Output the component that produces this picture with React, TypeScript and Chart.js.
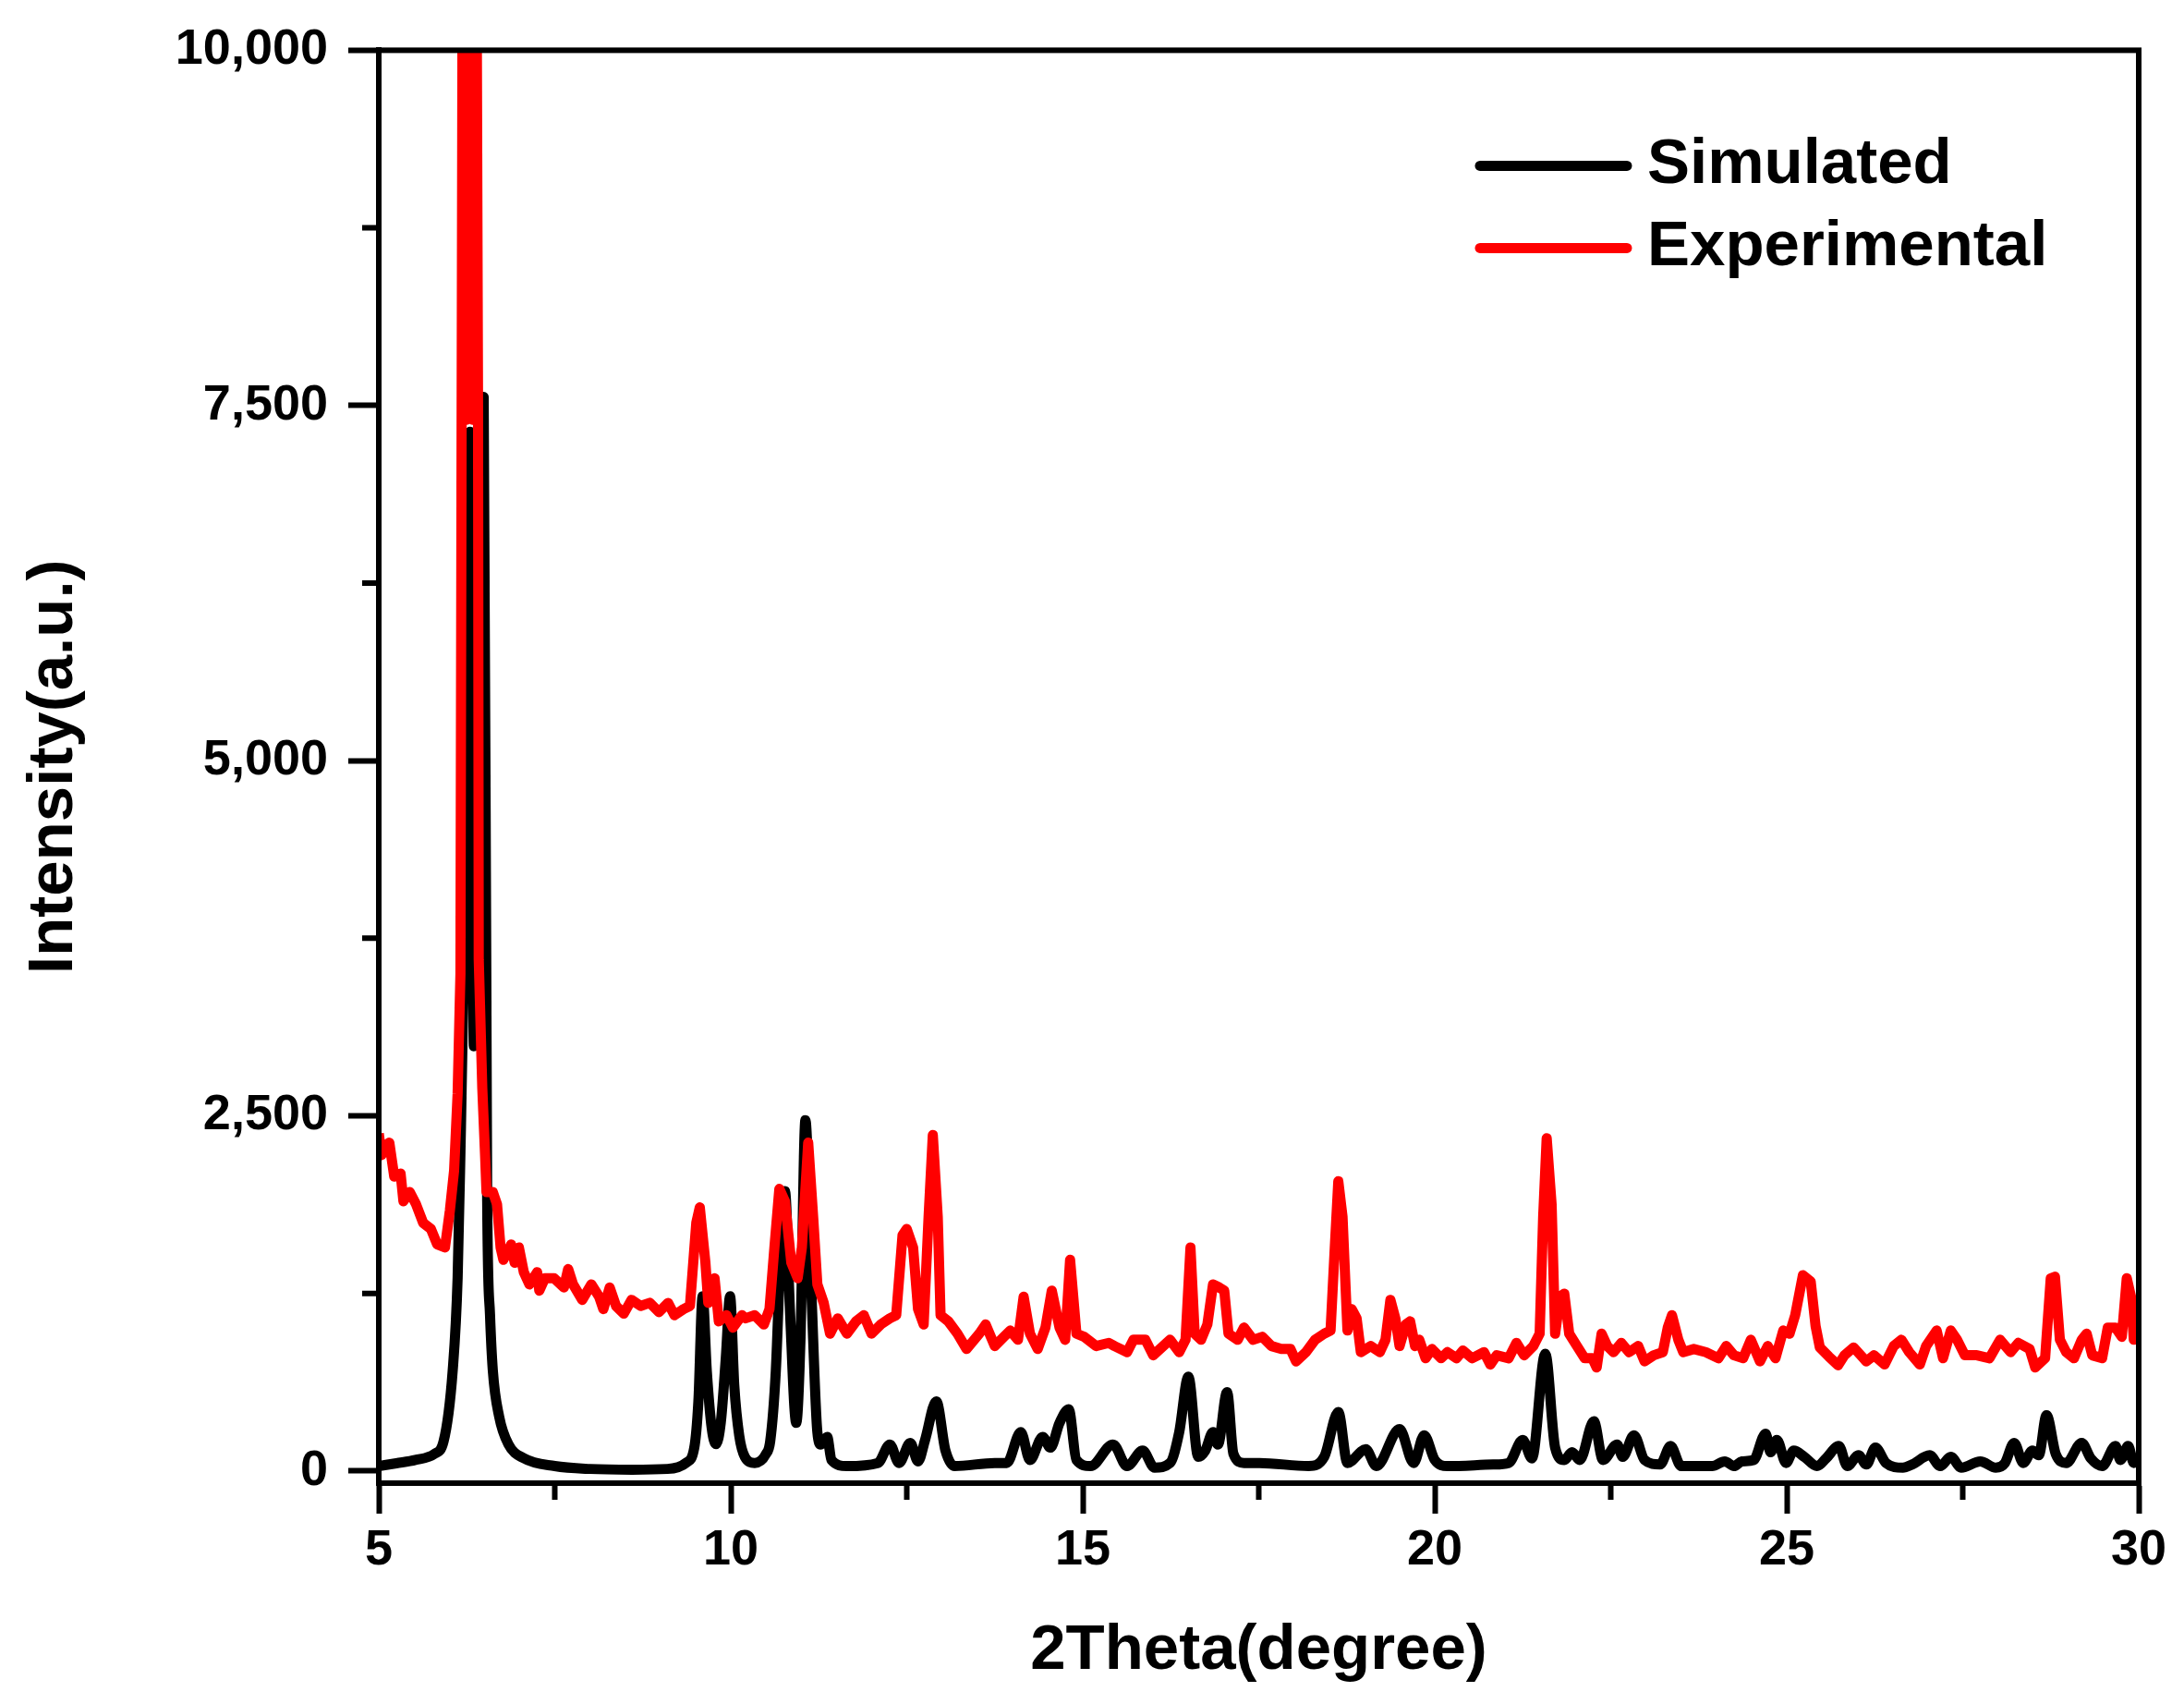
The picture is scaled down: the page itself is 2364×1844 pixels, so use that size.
import { useEffect, useRef } from "react";
import { Chart, registerables } from "chart.js";

Chart.register(...registerables);

const FONT = "'Liberation Sans', Arial, sans-serif";

const seriesLabels = ["Simulated", "Experimental"];
const seriesColors = ["#000000", "#ff0000"];

const xTicks = [5, 10, 15, 20, 25, 30];
const xMinorTicks = [7.5, 12.5, 17.5, 22.5, 27.5];
const yTicks = [0, 2500, 5000, 7500, 10000];
const yMinorTicks = [1250, 3750, 6250, 8750];

// [2theta, intensity]
const simulatedPoints: [number, number][] = [
    [5.0, 35], [5.25, 55], [5.52, 78], [5.79, 121], [5.92, 208], [6.05, 708],
    [6.12, 1360], [6.16, 2250], [6.21, 3600], [6.26, 5600], [6.3, 7315], [6.33, 4600],
    [6.35, 2990], [6.39, 4200], [6.44, 6200], [6.49, 7560], [6.54, 1900], [6.58, 1100],
    [6.62, 708], [6.71, 383], [6.84, 190], [7.06, 90], [7.5, 35], [8.0, 15],
    [8.6, 10], [9.1, 15], [9.37, 60], [9.48, 160], [9.54, 490], [9.6, 1230],
    [9.66, 700], [9.73, 300], [9.79, 190], [9.86, 350], [9.93, 800], [9.99, 1230],
    [10.05, 600], [10.12, 250], [10.2, 100], [10.34, 57], [10.5, 120], [10.56, 209],
    [10.64, 707], [10.71, 1574], [10.77, 1970], [10.84, 1140], [10.93, 339], [10.99, 924],
    [11.06, 2470], [11.15, 1200], [11.23, 274], [11.28, 187], [11.37, 241], [11.43, 78],
    [11.65, 35], [12.09, 57], [12.26, 187], [12.39, 57], [12.55, 198], [12.66, 68],
    [12.76, 219], [12.92, 490], [13.05, 144], [13.18, 35], [13.75, 57], [13.92, 57],
    [14.12, 274], [14.25, 78], [14.43, 241], [14.54, 165], [14.67, 339], [14.8, 436],
    [14.91, 78], [15.11, 35], [15.43, 187], [15.63, 35], [15.85, 144], [16.02, 24],
    [16.24, 57], [16.37, 274], [16.5, 664], [16.64, 100], [16.74, 144], [16.85, 274],
    [16.92, 187], [17.05, 555], [17.14, 122], [17.29, 57], [17.51, 57], [18.21, 35],
    [18.43, 100], [18.63, 415], [18.76, 57], [19.02, 154], [19.17, 35], [19.5, 295],
    [19.7, 57], [19.85, 252], [20.0, 78], [20.18, 35], [20.83, 46], [21.05, 57],
    [21.25, 219], [21.38, 89], [21.57, 826], [21.71, 165], [21.84, 78], [21.95, 133],
    [22.06, 78], [22.26, 350], [22.39, 78], [22.59, 187], [22.67, 100], [22.83, 252],
    [22.98, 78], [23.2, 46], [23.35, 176], [23.5, 35], [23.94, 35], [24.12, 68],
    [24.25, 35], [24.36, 68], [24.53, 78], [24.7, 263], [24.77, 133], [24.86, 219],
    [24.99, 57], [25.1, 144], [25.25, 100], [25.43, 35], [25.56, 90], [25.74, 176],
    [25.86, 35], [26.02, 111], [26.13, 46], [26.26, 165], [26.41, 57], [26.65, 24],
    [26.78, 46], [27.03, 111], [27.18, 35], [27.33, 100], [27.48, 24], [27.75, 68],
    [27.97, 24], [28.1, 57], [28.23, 198], [28.36, 57], [28.49, 144], [28.58, 111],
    [28.69, 393], [28.82, 122], [28.97, 57], [29.19, 198], [29.32, 89], [29.48, 35],
    [29.67, 176], [29.74, 78], [29.85, 176], [29.93, 57], [30.0, 100],
];

const experimentalPoints: [number, number][] = [
    [5.0, 2376], [5.04, 2224], [5.09, 2290], [5.15, 2311], [5.22, 2072], [5.31, 2094],
    [5.35, 1899], [5.44, 1964], [5.53, 1877], [5.63, 1747], [5.74, 1704], [5.83, 1595],
    [5.94, 1574], [6.01, 1834], [6.07, 2116], [6.12, 2657], [6.16, 3500], [6.19, 10500],
    [6.21, 7600], [6.23, 10500], [6.25, 7400], [6.27, 10500], [6.29, 7500], [6.31, 10500],
    [6.33, 7400], [6.35, 10500], [6.37, 7500], [6.39, 10500], [6.41, 7500], [6.42, 3600],
    [6.47, 2700], [6.51, 2224], [6.53, 1964], [6.62, 1964], [6.68, 1877], [6.73, 1574],
    [6.77, 1487], [6.88, 1595], [6.93, 1466], [6.99, 1574], [7.06, 1400], [7.14, 1314],
    [7.25, 1400], [7.28, 1270], [7.36, 1357], [7.49, 1357], [7.63, 1292], [7.69, 1422],
    [7.76, 1314], [7.89, 1205], [8.02, 1314], [8.13, 1227], [8.19, 1140], [8.28, 1292],
    [8.37, 1162], [8.48, 1108], [8.59, 1205], [8.72, 1162], [8.85, 1184], [8.98, 1119],
    [9.11, 1184], [9.2, 1097], [9.33, 1140], [9.42, 1162], [9.51, 1747], [9.56, 1856],
    [9.64, 1466], [9.68, 1184], [9.77, 1357], [9.83, 1054], [9.94, 1097], [10.03, 1010],
    [10.16, 1097], [10.21, 1075], [10.34, 1097], [10.47, 1032], [10.55, 1140], [10.62, 1574],
    [10.69, 1986], [10.77, 1899], [10.86, 1466], [10.95, 1357], [11.01, 1574], [11.1, 2311],
    [11.17, 1790], [11.23, 1314], [11.32, 1184], [11.41, 967], [11.52, 1075], [11.65, 967],
    [11.78, 1054], [11.89, 1097], [12.0, 967], [12.13, 1032], [12.26, 1075], [12.35, 1097],
    [12.44, 1661], [12.5, 1704], [12.59, 1574], [12.66, 1140], [12.74, 1032], [12.81, 1790],
    [12.87, 2365], [12.94, 1790], [12.98, 1097], [13.09, 1054], [13.22, 967], [13.35, 859],
    [13.53, 967], [13.62, 1032], [13.75, 880], [13.88, 945], [13.97, 989], [14.08, 924],
    [14.16, 1227], [14.25, 967], [14.36, 859], [14.47, 1010], [14.56, 1270], [14.67, 1010],
    [14.75, 924], [14.82, 1487], [14.91, 967], [15.02, 945], [15.19, 880], [15.37, 902],
    [15.45, 880], [15.63, 837], [15.72, 924], [15.89, 924], [16.0, 815], [16.24, 924],
    [16.37, 837], [16.46, 924], [16.53, 1574], [16.59, 967], [16.68, 924], [16.77, 1032],
    [16.85, 1314], [16.94, 1292], [17.01, 1270], [17.07, 967], [17.2, 924], [17.29, 1010],
    [17.42, 924], [17.55, 945], [17.68, 880], [17.82, 859], [17.95, 859], [18.03, 772],
    [18.17, 837], [18.3, 924], [18.43, 967], [18.52, 989], [18.58, 1574], [18.63, 2040],
    [18.69, 1790], [18.76, 989], [18.82, 1140], [18.89, 1075], [18.95, 837], [19.09, 880],
    [19.22, 837], [19.3, 924], [19.37, 1205], [19.44, 1075], [19.5, 880], [19.59, 1032],
    [19.65, 1054], [19.72, 880], [19.78, 924], [19.87, 794], [19.96, 859], [20.09, 794],
    [20.18, 837], [20.31, 794], [20.4, 848], [20.53, 794], [20.7, 837], [20.79, 750],
    [20.88, 815], [21.05, 794], [21.16, 902], [21.27, 815], [21.4, 880], [21.49, 967],
    [21.54, 1790], [21.59, 2343], [21.66, 1877], [21.71, 967], [21.78, 1227], [21.84, 1249],
    [21.91, 967], [22.02, 880], [22.13, 794], [22.24, 794], [22.3, 729], [22.37, 967],
    [22.45, 880], [22.54, 837], [22.65, 902], [22.76, 837], [22.89, 880], [22.98, 772],
    [23.11, 815], [23.24, 837], [23.31, 1010], [23.37, 1097], [23.46, 924], [23.53, 837],
    [23.68, 859], [23.85, 837], [24.03, 794], [24.14, 880], [24.25, 815], [24.38, 794],
    [24.49, 924], [24.62, 772], [24.73, 880], [24.84, 794], [24.95, 989], [25.04, 967],
    [25.12, 1097], [25.23, 1379], [25.34, 1335], [25.41, 1020], [25.47, 870], [25.6, 805],
    [25.73, 745], [25.82, 815], [25.95, 870], [26.09, 794], [26.13, 772], [26.24, 815],
    [26.39, 750], [26.52, 880], [26.63, 924], [26.74, 837], [26.89, 750], [26.98, 880],
    [27.13, 989], [27.22, 794], [27.33, 989], [27.42, 924], [27.53, 815], [27.7, 815],
    [27.88, 794], [28.03, 924], [28.18, 837], [28.29, 902], [28.45, 859], [28.53, 729],
    [28.67, 794], [28.75, 1357], [28.81, 1368], [28.88, 924], [28.97, 837], [29.08, 794],
    [29.19, 924], [29.26, 967], [29.34, 815], [29.48, 794], [29.56, 1010], [29.67, 1010],
    [29.76, 945], [29.83, 1357], [29.89, 1227], [29.93, 924], [30.0, 1050],
];

const tickFont = { family: FONT, size: 54, weight: "bold" as const };
const titleFont = { family: FONT, size: 69, weight: "bold" as const };

// box round the plot, drawn over the traces
const framePlugin = {
    id: "frame",
    afterDatasetsDraw(chart: Chart) {
        const { ctx, chartArea: a } = chart;
        ctx.save();
        ctx.strokeStyle = "#000";
        ctx.lineWidth = 6;
        ctx.strokeRect(a.left, a.top, a.right - a.left, a.bottom - a.top);
        ctx.restore();
    },
};

// short half-step ticks
const minorTicksPlugin = {
    id: "minorTicks",
    afterDraw(chart: Chart) {
        const { ctx, chartArea: a, scales } = chart;
        ctx.save();
        ctx.strokeStyle = "#000";
        ctx.lineWidth = 6;
        ctx.beginPath();
        xMinorTicks.forEach((v) => {
            const px = scales.x.getPixelForValue(v);
            ctx.moveTo(px, a.bottom);
            ctx.lineTo(px, a.bottom + 18);
        });
        yMinorTicks.forEach((v) => {
            const py = scales.y.getPixelForValue(v);
            ctx.moveTo(a.left, py);
            ctx.lineTo(a.left - 18, py);
        });
        ctx.stroke();
        ctx.restore();
    },
};

const legendPlugin = {
    id: "inlineLegend",
    afterDraw(chart: Chart) {
        const { ctx, chartArea: a } = chart;
        ctx.save();
        seriesLabels.forEach((label, i) => {
            const y = a.top + 125 + i * 89;
            const x0 = a.right - 713;
            ctx.strokeStyle = seriesColors[i];
            ctx.lineWidth = 11;
            ctx.lineCap = "round";
            ctx.beginPath();
            ctx.moveTo(x0, y);
            ctx.lineTo(x0 + 159, y);
            ctx.stroke();
            ctx.fillStyle = "#000";
            ctx.font = `bold 69px ${FONT}`;
            ctx.textAlign = "left";
            ctx.textBaseline = "middle";
            ctx.fillText(label, x0 + 181, y);
        });
        ctx.restore();
    },
};

export default function App() {
    const canvasRef = useRef<HTMLCanvasElement>(null);
    const chartRef = useRef<Chart | null>(null);

    useEffect(() => {
        if (!canvasRef.current) return;
        if (chartRef.current) chartRef.current.destroy();

        chartRef.current = new Chart(canvasRef.current, {
            type: "line",
            data: {
                datasets: [
                    {
                        label: seriesLabels[0],
                        data: simulatedPoints.map(([x, y]) => ({ x, y })),
                        borderColor: seriesColors[0],
                        borderWidth: 11,
                        pointRadius: 0,
                        cubicInterpolationMode: "monotone",
                        borderJoinStyle: "round",
                        clip: 0,
                        order: 1,
                    },
                    {
                        label: seriesLabels[1],
                        data: experimentalPoints.map(([x, y]) => ({ x, y })),
                        borderColor: seriesColors[1],
                        borderWidth: 11,
                        pointRadius: 0,
                        tension: 0,
                        borderJoinStyle: "round",
                        clip: 0,
                        order: 0,
                    },
                ],
            },
            options: {
                animation: false,
                responsive: true,
                maintainAspectRatio: false,
                devicePixelRatio: 1,
                parsing: false,
                layout: { padding: { top: 53, right: 49, left: 0, bottom: 0 } },
                plugins: {
                    legend: { display: false },
                    tooltip: { enabled: false },
                },
                scales: {
                    x: {
                        type: "linear",
                        min: 5,
                        max: 30,
                        afterBuildTicks: (s) => {
                            s.ticks = xTicks.map((v) => ({ value: v }));
                        },
                        afterFit: (s) => {
                            s.height = 239;
                        },
                        grid: {
                            display: true,
                            drawOnChartArea: false,
                            drawTicks: true,
                            tickLength: 33,
                            tickWidth: 6,
                            tickColor: "#000",
                        },
                        border: { display: true, width: 6, color: "#000" },
                        ticks: {
                            color: "#000",
                            font: tickFont,
                            padding: 8,
                            maxRotation: 0,
                            autoSkip: false,
                        },
                        title: {
                            display: true,
                            text: "2Theta(degree)",
                            color: "#000",
                            font: titleFont,
                            padding: 16,
                        },
                    },
                    y: {
                        type: "linear",
                        min: -85,
                        max: 10000,
                        afterBuildTicks: (s) => {
                            s.ticks = yTicks.map((v) => ({ value: v }));
                        },
                        afterFit: (s) => {
                            s.width = 410;
                        },
                        grid: {
                            display: true,
                            drawOnChartArea: false,
                            drawTicks: true,
                            tickLength: 33,
                            tickWidth: 6,
                            tickColor: "#000",
                        },
                        border: { display: true, width: 6, color: "#000" },
                        ticks: {
                            color: "#000",
                            font: tickFont,
                            padding: 22,
                            autoSkip: false,
                            callback: (v) => Number(v).toLocaleString("en-US"),
                        },
                        title: {
                            display: true,
                            text: "Intensity(a.u.)",
                            color: "#000",
                            font: titleFont,
                            padding: 18,
                        },
                    },
                },
            },
            plugins: [framePlugin, minorTicksPlugin, legendPlugin],
        });

        return () => {
            chartRef.current?.destroy();
            chartRef.current = null;
        };
    }, []);

    return (
        <div style={{ position: "fixed", left: 0, top: 0, width: "2364px", height: "1844px", background: "#fff" }}>
            <canvas ref={canvasRef} role="img" aria-label="XRD patterns, simulated and experimental" />
        </div>
    );
}
